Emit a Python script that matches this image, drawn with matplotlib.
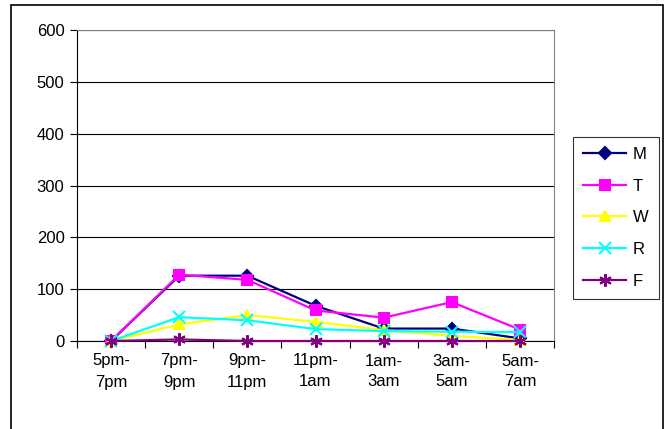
import matplotlib
matplotlib.use("Agg")
import matplotlib.pyplot as plt
from matplotlib.patches import Rectangle

plt.rcParams["font.family"] = ["Liberation Sans", "DejaVu Sans"]

slots = ["5pm-\n7pm", "7pm-\n9pm", "9pm-\n11pm", "11pm-\n1am",
         "1am-\n3am", "3am-\n5am", "5am-\n7am"]
m_vals = [0, 126, 126, 68, 24, 24, 5]
t_vals = [0, 128, 118, 59, 45, 75, 22]
w_vals = [0, 32, 50, 37, 21, 10, 2]
r_vals = [0, 46, 40, 23, 19, 18, 17]
f_vals = [0, 3, 0, 0, 0, 0, 0]

series = [
    ("M", m_vals, "#000080", "D", 6),
    ("T", t_vals, "#FF00FF", "s", 7),
    ("W", w_vals, "#FFFF00", "^", 7),
    ("R", r_vals, "#00FFFF", "x", 8),
    ("F", f_vals, "#800080", (6, 2, 0), 9),
]

fig = plt.figure(figsize=(6.68, 4.29), dpi=100)
ax = fig.add_axes([77 / 668, 1 - 341 / 429, (554 - 77) / 668, (341 - 30) / 429])

x = range(len(slots))
for name, vals, col, mk, ms in series:
    ax.plot(x, vals, color=col, lw=1.6, marker=mk, ms=ms,
            mfc=col, mec=col, mew=1.5, label=name, clip_on=False, zorder=3)

ax.set_xlim(-0.5, len(slots) - 0.5)
ax.set_ylim(0, 600)
ax.set_yticks(range(0, 601, 100))
ax.yaxis.grid(True, color="black", lw=0.8)
ax.set_axisbelow(True)

# category boundaries carry the tick marks, labels sit in the middle
ax.set_xticks([i - 0.5 for i in range(len(slots) + 1)])
ax.set_xticklabels([])
ax.set_xticks(list(x), minor=True)
ax.set_xticklabels(slots, minor=True, fontsize=12, linespacing=1.5)
ax.tick_params(axis="x", which="minor", length=0, pad=9)
ax.tick_params(axis="x", which="major", direction="out", length=5, color="black")
ax.tick_params(axis="y", direction="out", length=5, labelsize=12, pad=4)

for side in ("top", "right"):
    ax.spines[side].set_color("#808080")
for side in ("left", "bottom"):
    ax.spines[side].set_color("black")

leg = fig.legend(loc="upper left", bbox_to_anchor=(573 / 668, 1 - 137 / 429),
                 fontsize=12, handlelength=2.6, labelspacing=1.0,
                 handletextpad=0.4, borderpad=0.6, frameon=True,
                 fancybox=False, edgecolor="black", borderaxespad=0)
leg.get_frame().set_linewidth(0.8)

fig.patches.append(Rectangle((11 / 668, -0.05), (663 - 11) / 668, 1.05 - 5 / 429,
                             transform=fig.transFigure, fill=False,
                             edgecolor="black", lw=1.2))

fig.savefig("out.png", dpi=100)
